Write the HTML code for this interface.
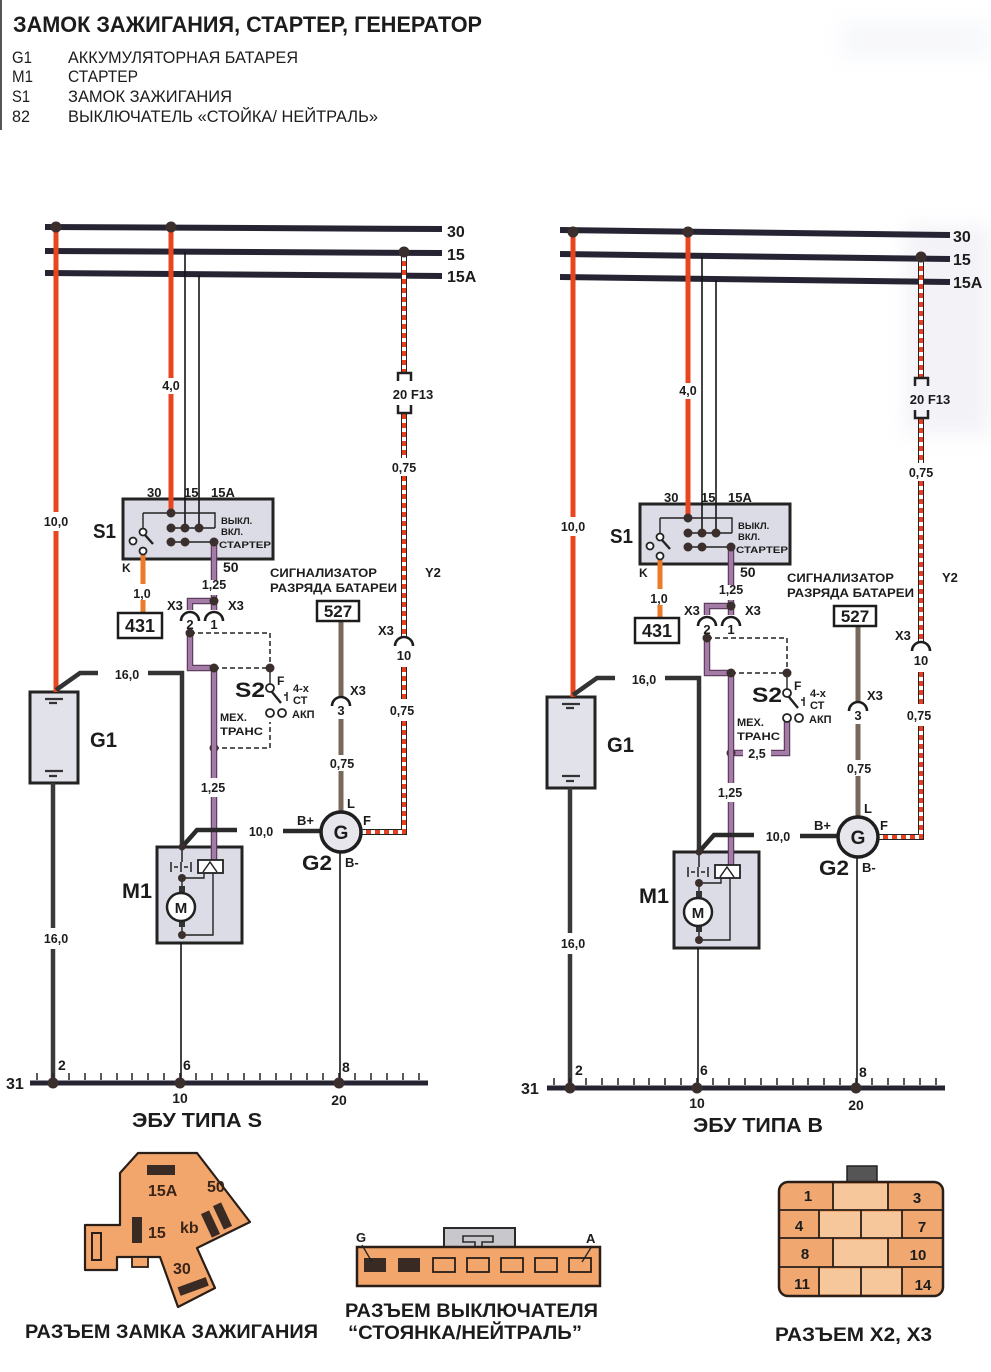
<!DOCTYPE html>
<html><head><meta charset="utf-8"><style>
html,body{margin:0;padding:0;background:#fff;width:991px;height:1372px;overflow:hidden}
svg{display:block;font-family:"Liberation Sans","DejaVu Sans",sans-serif}
text{fill:#1c1c1c}
.b{font-weight:bold}
.m{text-anchor:middle}
</style></head><body>
<svg width="991" height="1372" viewBox="0 0 991 1372" xmlns="http://www.w3.org/2000/svg">
<defs><filter id="bl"><feGaussianBlur stdDeviation="10"/></filter></defs>
<rect width="991" height="1372" fill="#fff"/>
<g filter="url(#bl)" opacity="0.28">
<rect x="905" y="225" width="86" height="210" fill="#d6d2e4"/>
<rect x="840" y="22" width="151" height="36" fill="#e2e6f0"/>
</g>
<line x1="1" y1="0" x2="1" y2="130" stroke="#555" stroke-width="2"/>

<!-- title & legend -->
<text x="13" y="32" class="b" font-size="22" textLength="469" lengthAdjust="spacingAndGlyphs">ЗАМОК ЗАЖИГАНИЯ, СТАРТЕР, ГЕНЕРАТОР</text>
<g font-size="17">
<text x="12" y="63" textLength="20" lengthAdjust="spacingAndGlyphs">G1</text>
<text x="68" y="63" textLength="230" lengthAdjust="spacingAndGlyphs">АККУМУЛЯТОРНАЯ БАТАРЕЯ</text>
<text x="12" y="82" textLength="21" lengthAdjust="spacingAndGlyphs">M1</text>
<text x="68" y="82" textLength="70" lengthAdjust="spacingAndGlyphs">СТАРТЕР</text>
<text x="12" y="102" textLength="18" lengthAdjust="spacingAndGlyphs">S1</text>
<text x="68" y="102" textLength="164" lengthAdjust="spacingAndGlyphs">ЗАМОК ЗАЖИГАНИЯ</text>
<text x="12" y="122" textLength="18" lengthAdjust="spacingAndGlyphs">82</text>
<text x="68" y="122" textLength="310" lengthAdjust="spacingAndGlyphs">ВЫКЛЮЧАТЕЛЬ «СТОЙКА/ НЕЙТРАЛЬ»</text>
</g>

<!-- buses -->
<g stroke="#262433" stroke-width="6">
<line x1="45" y1="227" x2="442" y2="229"/>
<line x1="45" y1="251" x2="442" y2="253"/>
<line x1="45" y1="273" x2="442" y2="276"/>
<line x1="560" y1="230" x2="950" y2="235"/>
<line x1="560" y1="254" x2="950" y2="259"/>
<line x1="560" y1="277" x2="950" y2="282"/>
</g>
<g class="b" font-size="16">
<text x="447" y="237">30</text><text x="447" y="260">15</text><text x="447" y="282">15A</text>
<text x="953" y="242">30</text><text x="953" y="265">15</text><text x="953" y="288">15A</text>
</g>
<text x="132" y="1127" class="b" font-size="20" textLength="130" lengthAdjust="spacingAndGlyphs">ЭБУ ТИПА S</text>
<text x="693" y="1132" class="b" font-size="20" textLength="130" lengthAdjust="spacingAndGlyphs">ЭБУ ТИПА В</text>

<!-- LEFT-only S2 lower dashed -->
<path d="M214,748H270V722" stroke="#222" stroke-width="1.5" stroke-dasharray="5 3" fill="none"/>
<circle cx="214" cy="748" r="4.5" fill="#3a2f2c"/>

<!-- RIGHT-only 2,5 wire -->
<g transform="translate(517,5)">
<path d="M270,717V748H254M226,748H214" stroke="#5e3f60" stroke-width="6.5" fill="none"/>
<path d="M270,717V748H254M226,748H214" stroke="#a47aa6" stroke-width="4" fill="none"/>
<circle cx="214" cy="748" r="4.5" fill="#3a2f2c"/>
<text x="240" y="753" class="b m" font-size="12.5">2,5</text>
</g>

<!-- SHARED DIAGRAM: LEFT -->
<g>
<rect x="123" y="499" width="150" height="60" fill="#dcdce6" stroke="#232323" stroke-width="3"/>
<rect x="30" y="692" width="48" height="91" fill="#e2e2ea" stroke="#232323" stroke-width="3"/>
<rect x="157" y="847" width="85" height="96" fill="#dcdce6" stroke="#232323" stroke-width="3"/>
<path d="M45,699H63M49,703H57M45,771H63M49,776H57" stroke="#333" stroke-width="2.2"/>
<path d="M56,227V512M56,531V692M171,227V378M171,394V513" stroke="#e8461e" stroke-width="5" fill="none"/>
<path d="M185,252V528M199,275V528" stroke="#151515" stroke-width="1.6" fill="none"/>
<path d="M404,252V372M404,414V458M404,476V638M404,667V699M404,721V832H361" stroke="#222" stroke-width="6" fill="none"/>
<path d="M404,252V372M404,414V458M404,476V638M404,667V699M404,721V832H361" stroke="#fff" stroke-width="4" fill="none"/>
<path d="M404,252V372M404,414V458M404,476V638M404,667V699M404,721V832H361" stroke="#e8401e" stroke-width="4" stroke-dasharray="5 4" fill="none"/>
<path d="M398,381V373H411V381M398,405V413H411V405" stroke="#222" stroke-width="2.5" fill="none"/>
<path d="M143,513V528M143,513H215V528M171,528H215M171,542H215" stroke="#222" stroke-width="1.4" fill="none"/>
<path d="M143,555V584M143,600V613" stroke="#eb7a2a" stroke-width="5" fill="none"/>
<path d="M214,542V580M214,595V610M214,601H190V610M190,633V668H214V778M214,797V860" stroke="#5e3f60" stroke-width="6.5" fill="none"/>
<path d="M214,542V580M214,595V610M214,601H190V610M190,633V668H214V778M214,797V860" stroke="#a47aa6" stroke-width="4" fill="none"/>
<path d="M341,621V697M341,719V755M341,771V812" stroke="#76685a" stroke-width="5" fill="none"/>
<path d="M56,690L80,673H98M148,673H182V847" stroke="#333" stroke-width="4.5" fill="none"/>
<path d="M53,783V928M53,949V1083" stroke="#3a3a3a" stroke-width="4.5" fill="none"/>
<path d="M182,847L197,830H237M283,831H321" stroke="#2a2a2a" stroke-width="4.5" fill="none"/>
<path d="M181,943V1083M340,852V1083" stroke="#151515" stroke-width="1.6" fill="none"/>
<path d="M190,633H270V668M214,668H270" stroke="#222" stroke-width="1.5" stroke-dasharray="5 3" fill="none"/>
<path d="M270,672V684" stroke="#222" stroke-width="1.4"/>
<path d="M182,848V862M171,862V872M174,867H178M181,862V872M184,867H188M191,862V872" stroke="#222" stroke-width="1.5" fill="none"/>
<rect x="198" y="860" width="25" height="13" fill="#fff" stroke="#222" stroke-width="1.8"/>
<path d="M203,872L210,862L217,872" stroke="#222" stroke-width="1.5" fill="none"/>
<path d="M204,873V878H182M182,878V893M182,922V935H213V873" stroke="#222" stroke-width="1.4" fill="none"/>
<rect x="179" y="886" width="6" height="6" fill="#333"/>
<rect x="179" y="921" width="6" height="6" fill="#333"/>
<circle cx="181" cy="907" r="14" fill="#fff" stroke="#222" stroke-width="2.5"/>
<text x="181" y="913" class="b m" font-size="15">M</text>
<g fill="#fff" stroke="#222" stroke-width="1.8">
<circle cx="143" cy="532" r="3.5"/><circle cx="133" cy="541" r="3.5"/><circle cx="143" cy="551" r="3.5"/>
<circle cx="270" cy="688" r="4"/><circle cx="270" cy="713" r="4"/><circle cx="282" cy="713" r="4"/>
</g>
<path d="M145,535L153,544M272,692L281,703" stroke="#222" stroke-width="2.4"/>
<path d="M287,692V701M284,695H287" stroke="#222" stroke-width="1.5"/>
<path d="M181,621A9,9 0 0 1 199,621M205,621A9,9 0 0 1 223,621M395,646A9,9 0 0 1 413,646M332,706A9,9 0 0 1 350,706" stroke="#1c1c1c" stroke-width="2.6" fill="none"/>
<rect x="118" y="613" width="44" height="25" fill="#fff" stroke="#1c1c1c" stroke-width="2.5"/>
<rect x="317" y="601" width="42" height="20" fill="#fff" stroke="#1c1c1c" stroke-width="2.5"/>
<circle cx="341" cy="832" r="20" fill="#e6e6ec" stroke="#1e1e1e" stroke-width="3.5"/>
<text x="341" y="839" class="b m" font-size="19">G</text>
<line x1="30" y1="1083" x2="428" y2="1083" stroke="#262433" stroke-width="5"/>
<path d="M37,1073V1080M53,1073V1080M69,1073V1080M85,1073V1080M101,1073V1080M117,1073V1080M132,1073V1080M148,1073V1080M164,1073V1080M180,1073V1080M196,1073V1080M212,1073V1080M228,1073V1080M244,1073V1080M260,1073V1080M276,1073V1080M291,1073V1080M307,1073V1080M323,1073V1080M339,1073V1080M355,1073V1080M371,1073V1080M387,1073V1080M403,1073V1080M419,1073V1080" stroke="#222" stroke-width="1.5"/>
<g fill="#3a2f2c">
<circle cx="56" cy="227" r="5.5"/><circle cx="171" cy="227" r="5.5"/><circle cx="404" cy="252" r="5.5"/>
<circle cx="171" cy="513" r="4.5"/><circle cx="171" cy="528" r="4.5"/><circle cx="185" cy="528" r="4.5"/><circle cx="199" cy="528" r="4.5"/>
<circle cx="171" cy="542" r="4.5"/><circle cx="185" cy="542" r="4.5"/><circle cx="214" cy="542" r="4.5"/>
<circle cx="214" cy="601" r="4.5"/><circle cx="190" cy="633" r="4.5"/><circle cx="214" cy="668" r="4.5"/><circle cx="270" cy="668" r="4.5"/>
<circle cx="182" cy="847" r="3.5"/><circle cx="182" cy="878" r="4"/><circle cx="182" cy="935" r="4"/>
<circle cx="53" cy="1083" r="5.5"/><circle cx="180" cy="1083" r="5.5"/><circle cx="339" cy="1083" r="5.5"/>
</g>
<g class="b">
<text x="56" y="526" class="m" font-size="12.5">10,0</text>
<text x="171" y="390" class="m" font-size="12.5">4,0</text>
<text x="404" y="472" class="m" font-size="12.5">0,75</text>
<text x="413" y="399" class="m" font-size="13">20 F13</text>
<text x="425" y="577" font-size="13">Y2</text>
<text x="378" y="635" font-size="13">X3</text>
<text x="404" y="660" class="m" font-size="13">10</text>
<text x="402" y="715" class="m" font-size="12.5">0,75</text>
<text x="93" y="538" font-size="20" textLength="23" lengthAdjust="spacingAndGlyphs">S1</text>
<text x="147" y="497" font-size="13">30</text>
<text x="184" y="497" font-size="13">15</text>
<text x="211" y="497" font-size="13">15A</text>
<text x="221" y="524" font-size="9.5">ВЫКЛ.</text>
<text x="221" y="535" font-size="9.5">ВКЛ.</text>
<text x="219" y="548" font-size="9.5" textLength="52" lengthAdjust="spacingAndGlyphs">СТАРТЕР</text>
<text x="122" y="572" font-size="12">K</text>
<text x="142" y="598" class="m" font-size="12.5">1,0</text>
<text x="140" y="632" class="m" font-size="18">431</text>
<text x="223" y="572" font-size="14">50</text>
<text x="214" y="589" class="m" font-size="12.5">1,25</text>
<text x="167" y="610" font-size="13">X3</text>
<text x="228" y="610" font-size="13">X3</text>
<text x="190" y="629" class="m" font-size="13">2</text>
<text x="214" y="629" class="m" font-size="13">1</text>
<text x="270" y="577" font-size="12" textLength="107" lengthAdjust="spacingAndGlyphs">СИГНАЛИЗАТОР</text>
<text x="270" y="592" font-size="12" textLength="127" lengthAdjust="spacingAndGlyphs">РАЗРЯДА БАТАРЕИ</text>
<text x="338" y="617" class="m" font-size="17">527</text>
<text x="350" y="695" font-size="13">X3</text>
<text x="341" y="715" class="m" font-size="13">3</text>
<text x="342" y="768" class="m" font-size="12.5">0,75</text>
<text x="235" y="697" font-size="21" textLength="30" lengthAdjust="spacingAndGlyphs">S2</text>
<text x="277" y="685" font-size="12">F</text>
<text x="293" y="692" font-size="11">4-х</text>
<text x="293" y="704" font-size="11">СТ</text>
<text x="292" y="718" font-size="11">АКП</text>
<text x="220" y="721" font-size="11">МЕХ.</text>
<text x="220" y="735" font-size="11" textLength="43" lengthAdjust="spacingAndGlyphs">ТРАНС</text>
<text x="90" y="747" font-size="21" textLength="27" lengthAdjust="spacingAndGlyphs">G1</text>
<text x="127" y="679" class="m" font-size="12.5">16,0</text>
<text x="213" y="792" class="m" font-size="12.5">1,25</text>
<text x="261" y="836" class="m" font-size="12.5">10,0</text>
<text x="122" y="898" font-size="21" textLength="30" lengthAdjust="spacingAndGlyphs">M1</text>
<text x="347" y="808" font-size="13">L</text>
<text x="297" y="825" font-size="13">B+</text>
<text x="363" y="825" font-size="13">F</text>
<text x="302" y="870" font-size="21" textLength="30" lengthAdjust="spacingAndGlyphs">G2</text>
<text x="345" y="867" font-size="13">B-</text>
<text x="56" y="943" class="m" font-size="12.5">16,0</text>
<text x="6" y="1089" font-size="16">31</text>
<text x="58" y="1070" font-size="14">2</text>
<text x="183" y="1070" font-size="14">6</text>
<text x="342" y="1072" font-size="14">8</text>
<text x="180" y="1103" class="m" font-size="14">10</text>
<text x="339" y="1105" class="m" font-size="14">20</text>
</g>
</g>

<!-- SHARED DIAGRAM: RIGHT (translated copy) -->
<g transform="translate(517,5)">
<rect x="123" y="499" width="150" height="60" fill="#dcdce6" stroke="#232323" stroke-width="3"/>
<rect x="30" y="692" width="48" height="91" fill="#e2e2ea" stroke="#232323" stroke-width="3"/>
<rect x="157" y="847" width="85" height="96" fill="#dcdce6" stroke="#232323" stroke-width="3"/>
<path d="M45,699H63M49,703H57M45,771H63M49,776H57" stroke="#333" stroke-width="2.2"/>
<path d="M56,227V512M56,531V692M171,227V378M171,394V513" stroke="#e8461e" stroke-width="5" fill="none"/>
<path d="M185,252V528M199,275V528" stroke="#151515" stroke-width="1.6" fill="none"/>
<path d="M404,252V372M404,414V458M404,476V638M404,667V699M404,721V832H361" stroke="#222" stroke-width="6" fill="none"/>
<path d="M404,252V372M404,414V458M404,476V638M404,667V699M404,721V832H361" stroke="#fff" stroke-width="4" fill="none"/>
<path d="M404,252V372M404,414V458M404,476V638M404,667V699M404,721V832H361" stroke="#e8401e" stroke-width="4" stroke-dasharray="5 4" fill="none"/>
<path d="M398,381V373H411V381M398,405V413H411V405" stroke="#222" stroke-width="2.5" fill="none"/>
<path d="M143,513V528M143,513H215V528M171,528H215M171,542H215" stroke="#222" stroke-width="1.4" fill="none"/>
<path d="M143,555V584M143,600V613" stroke="#eb7a2a" stroke-width="5" fill="none"/>
<path d="M214,542V580M214,595V610M214,601H190V610M190,633V668H214V778M214,797V860" stroke="#5e3f60" stroke-width="6.5" fill="none"/>
<path d="M214,542V580M214,595V610M214,601H190V610M190,633V668H214V778M214,797V860" stroke="#a47aa6" stroke-width="4" fill="none"/>
<path d="M341,621V697M341,719V755M341,771V812" stroke="#76685a" stroke-width="5" fill="none"/>
<path d="M56,690L80,673H98M148,673H182V847" stroke="#333" stroke-width="4.5" fill="none"/>
<path d="M53,783V928M53,949V1083" stroke="#3a3a3a" stroke-width="4.5" fill="none"/>
<path d="M182,847L197,830H237M283,831H321" stroke="#2a2a2a" stroke-width="4.5" fill="none"/>
<path d="M181,943V1083M340,852V1083" stroke="#151515" stroke-width="1.6" fill="none"/>
<path d="M190,633H270V668M214,668H270" stroke="#222" stroke-width="1.5" stroke-dasharray="5 3" fill="none"/>
<path d="M270,672V684" stroke="#222" stroke-width="1.4"/>
<path d="M182,848V862M171,862V872M174,867H178M181,862V872M184,867H188M191,862V872" stroke="#222" stroke-width="1.5" fill="none"/>
<rect x="198" y="860" width="25" height="13" fill="#fff" stroke="#222" stroke-width="1.8"/>
<path d="M203,872L210,862L217,872" stroke="#222" stroke-width="1.5" fill="none"/>
<path d="M204,873V878H182M182,878V893M182,922V935H213V873" stroke="#222" stroke-width="1.4" fill="none"/>
<rect x="179" y="886" width="6" height="6" fill="#333"/>
<rect x="179" y="921" width="6" height="6" fill="#333"/>
<circle cx="181" cy="907" r="14" fill="#fff" stroke="#222" stroke-width="2.5"/>
<text x="181" y="913" class="b m" font-size="15">M</text>
<g fill="#fff" stroke="#222" stroke-width="1.8">
<circle cx="143" cy="532" r="3.5"/><circle cx="133" cy="541" r="3.5"/><circle cx="143" cy="551" r="3.5"/>
<circle cx="270" cy="688" r="4"/><circle cx="270" cy="713" r="4"/><circle cx="282" cy="713" r="4"/>
</g>
<path d="M145,535L153,544M272,692L281,703" stroke="#222" stroke-width="2.4"/>
<path d="M287,692V701M284,695H287" stroke="#222" stroke-width="1.5"/>
<path d="M181,621A9,9 0 0 1 199,621M205,621A9,9 0 0 1 223,621M395,646A9,9 0 0 1 413,646M332,706A9,9 0 0 1 350,706" stroke="#1c1c1c" stroke-width="2.6" fill="none"/>
<rect x="118" y="613" width="44" height="25" fill="#fff" stroke="#1c1c1c" stroke-width="2.5"/>
<rect x="317" y="601" width="42" height="20" fill="#fff" stroke="#1c1c1c" stroke-width="2.5"/>
<circle cx="341" cy="832" r="20" fill="#e6e6ec" stroke="#1e1e1e" stroke-width="3.5"/>
<text x="341" y="839" class="b m" font-size="19">G</text>
<line x1="30" y1="1083" x2="428" y2="1083" stroke="#262433" stroke-width="5"/>
<path d="M37,1073V1080M53,1073V1080M69,1073V1080M85,1073V1080M101,1073V1080M117,1073V1080M132,1073V1080M148,1073V1080M164,1073V1080M180,1073V1080M196,1073V1080M212,1073V1080M228,1073V1080M244,1073V1080M260,1073V1080M276,1073V1080M291,1073V1080M307,1073V1080M323,1073V1080M339,1073V1080M355,1073V1080M371,1073V1080M387,1073V1080M403,1073V1080M419,1073V1080" stroke="#222" stroke-width="1.5"/>
<g fill="#3a2f2c">
<circle cx="56" cy="227" r="5.5"/><circle cx="171" cy="227" r="5.5"/><circle cx="404" cy="252" r="5.5"/>
<circle cx="171" cy="513" r="4.5"/><circle cx="171" cy="528" r="4.5"/><circle cx="185" cy="528" r="4.5"/><circle cx="199" cy="528" r="4.5"/>
<circle cx="171" cy="542" r="4.5"/><circle cx="185" cy="542" r="4.5"/><circle cx="214" cy="542" r="4.5"/>
<circle cx="214" cy="601" r="4.5"/><circle cx="190" cy="633" r="4.5"/><circle cx="214" cy="668" r="4.5"/><circle cx="270" cy="668" r="4.5"/>
<circle cx="182" cy="847" r="3.5"/><circle cx="182" cy="878" r="4"/><circle cx="182" cy="935" r="4"/>
<circle cx="53" cy="1083" r="5.5"/><circle cx="180" cy="1083" r="5.5"/><circle cx="339" cy="1083" r="5.5"/>
</g>
<g class="b">
<text x="56" y="526" class="m" font-size="12.5">10,0</text>
<text x="171" y="390" class="m" font-size="12.5">4,0</text>
<text x="404" y="472" class="m" font-size="12.5">0,75</text>
<text x="413" y="399" class="m" font-size="13">20 F13</text>
<text x="425" y="577" font-size="13">Y2</text>
<text x="378" y="635" font-size="13">X3</text>
<text x="404" y="660" class="m" font-size="13">10</text>
<text x="402" y="715" class="m" font-size="12.5">0,75</text>
<text x="93" y="538" font-size="20" textLength="23" lengthAdjust="spacingAndGlyphs">S1</text>
<text x="147" y="497" font-size="13">30</text>
<text x="184" y="497" font-size="13">15</text>
<text x="211" y="497" font-size="13">15A</text>
<text x="221" y="524" font-size="9.5">ВЫКЛ.</text>
<text x="221" y="535" font-size="9.5">ВКЛ.</text>
<text x="219" y="548" font-size="9.5" textLength="52" lengthAdjust="spacingAndGlyphs">СТАРТЕР</text>
<text x="122" y="572" font-size="12">K</text>
<text x="142" y="598" class="m" font-size="12.5">1,0</text>
<text x="140" y="632" class="m" font-size="18">431</text>
<text x="223" y="572" font-size="14">50</text>
<text x="214" y="589" class="m" font-size="12.5">1,25</text>
<text x="167" y="610" font-size="13">X3</text>
<text x="228" y="610" font-size="13">X3</text>
<text x="190" y="629" class="m" font-size="13">2</text>
<text x="214" y="629" class="m" font-size="13">1</text>
<text x="270" y="577" font-size="12" textLength="107" lengthAdjust="spacingAndGlyphs">СИГНАЛИЗАТОР</text>
<text x="270" y="592" font-size="12" textLength="127" lengthAdjust="spacingAndGlyphs">РАЗРЯДА БАТАРЕИ</text>
<text x="338" y="617" class="m" font-size="17">527</text>
<text x="350" y="695" font-size="13">X3</text>
<text x="341" y="715" class="m" font-size="13">3</text>
<text x="342" y="768" class="m" font-size="12.5">0,75</text>
<text x="235" y="697" font-size="21" textLength="30" lengthAdjust="spacingAndGlyphs">S2</text>
<text x="277" y="685" font-size="12">F</text>
<text x="293" y="692" font-size="11">4-х</text>
<text x="293" y="704" font-size="11">СТ</text>
<text x="292" y="718" font-size="11">АКП</text>
<text x="220" y="721" font-size="11">МЕХ.</text>
<text x="220" y="735" font-size="11" textLength="43" lengthAdjust="spacingAndGlyphs">ТРАНС</text>
<text x="90" y="747" font-size="21" textLength="27" lengthAdjust="spacingAndGlyphs">G1</text>
<text x="127" y="679" class="m" font-size="12.5">16,0</text>
<text x="213" y="792" class="m" font-size="12.5">1,25</text>
<text x="261" y="836" class="m" font-size="12.5">10,0</text>
<text x="122" y="898" font-size="21" textLength="30" lengthAdjust="spacingAndGlyphs">M1</text>
<text x="347" y="808" font-size="13">L</text>
<text x="297" y="825" font-size="13">B+</text>
<text x="363" y="825" font-size="13">F</text>
<text x="302" y="870" font-size="21" textLength="30" lengthAdjust="spacingAndGlyphs">G2</text>
<text x="345" y="867" font-size="13">B-</text>
<text x="56" y="943" class="m" font-size="12.5">16,0</text>
<text x="4" y="1089" font-size="16">31</text>
<text x="58" y="1070" font-size="14">2</text>
<text x="183" y="1070" font-size="14">6</text>
<text x="342" y="1072" font-size="14">8</text>
<text x="180" y="1103" class="m" font-size="14">10</text>
<text x="339" y="1105" class="m" font-size="14">20</text>
</g>
</g>

<!-- Connector 1: ignition lock -->
<polygon points="138,1153 197,1153 250,1222 197,1248 215,1288 178,1307 160,1257 117,1257 117,1270 85,1270 85,1225 120,1225 120,1173" fill="#f2a66c" stroke="#2a1e18" stroke-width="2.2" stroke-linejoin="round"/>
<rect x="147" y="1165" width="28" height="10" fill="#3a2a24"/>
<rect x="132" y="1217" width="10" height="26" fill="#3a2a24"/>
<rect x="92" y="1233" width="9" height="27" fill="none" stroke="#2a1e18" stroke-width="2"/>
<rect x="132" y="1257" width="16" height="10" fill="#f2a66c" stroke="#2a1e18" stroke-width="1.8"/>
<rect x="206" y="1211" width="9" height="26" fill="#3a2a24" transform="rotate(-25 210.5 1224)"/>
<rect x="218" y="1203" width="9" height="26" fill="#3a2a24" transform="rotate(-25 222.5 1216)"/>
<rect x="178" y="1282" width="30" height="9" fill="#3a2a24" transform="rotate(-20 193 1286)"/>
<g class="b" font-size="16">
<text x="148" y="1196" style="fill:#3a2418">15A</text>
<text x="207" y="1192" style="fill:#3a2418">50</text>
<text x="180" y="1233" style="fill:#3a2418">kb</text>
<text x="148" y="1238" style="fill:#3a2418">15</text>
<text x="173" y="1274" style="fill:#3a2418">30</text>
</g>
<text x="25" y="1338" class="b" font-size="19" textLength="293" lengthAdjust="spacingAndGlyphs">РАЗЪЕМ ЗАМКА ЗАЖИГАНИЯ</text>

<!-- Connector 2 -->
<rect x="444" y="1228" width="71" height="19" fill="#c8c8cc" stroke="#2a2a2a" stroke-width="2"/>
<path d="M463,1236H493V1242H482V1247H475V1242H463Z" fill="#c8c8cc" stroke="#2a2a2a" stroke-width="1.6"/>
<rect x="357" y="1247" width="243" height="39" fill="#f2a66c" stroke="#2a1e18" stroke-width="2.5"/>
<rect x="364" y="1258" width="22" height="14" fill="#3a2a24"/>
<rect x="398" y="1258" width="22" height="14" fill="#3a2a24"/>
<g fill="none" stroke="#2a1e18" stroke-width="1.8">
<rect x="433" y="1258" width="22" height="14"/><rect x="467" y="1258" width="22" height="14"/>
<rect x="501" y="1258" width="22" height="14"/><rect x="535" y="1258" width="22" height="14"/>
<rect x="569" y="1258" width="22" height="14"/>
</g>
<path d="M362,1245L372,1262M592,1246L582,1262" stroke="#222" stroke-width="1.3"/>
<text x="356" y="1242" class="b" font-size="13">G</text>
<text x="586" y="1243" class="b" font-size="13">A</text>
<text x="345" y="1317" class="b" font-size="19" textLength="253" lengthAdjust="spacingAndGlyphs">РАЗЪЕМ ВЫКЛЮЧАТЕЛЯ</text>
<text x="348" y="1339" class="b" font-size="19" textLength="234" lengthAdjust="spacingAndGlyphs">“СТОЯНКА/НЕЙТРАЛЬ”</text>

<!-- Connector 3 -->
<rect x="847" y="1166" width="30" height="16" fill="#555" stroke="#222" stroke-width="1.5"/>
<rect x="779" y="1182" width="164" height="114" rx="9" fill="#f0a870" stroke="#2a1e18" stroke-width="2.5"/>
<g fill="#f7c79c">
<rect x="834" y="1184" width="53" height="25"/>
<rect x="820" y="1212" width="82" height="25"/>
<rect x="834" y="1240" width="53" height="26"/>
<rect x="820" y="1269" width="82" height="25"/>
</g>
<path d="M779,1210H943M779,1238H943M779,1267H943M833,1182V1210M888,1182V1210M819,1210V1238M861,1210V1238M902,1210V1238M833,1238V1267M888,1238V1267M819,1267V1296M861,1267V1296M902,1267V1296" stroke="#2a1e18" stroke-width="1.8"/>
<g class="b m" font-size="15">
<text x="808" y="1201">1</text><text x="917" y="1203">3</text>
<text x="799" y="1231">4</text><text x="922" y="1232">7</text>
<text x="805" y="1259">8</text><text x="918" y="1260">10</text>
<text x="802" y="1289">11</text><text x="923" y="1290">14</text>
</g>
<text x="775" y="1341" class="b" font-size="19" textLength="157" lengthAdjust="spacingAndGlyphs">РАЗЪЕМ Х2, Х3</text>
</svg>
</body></html>
